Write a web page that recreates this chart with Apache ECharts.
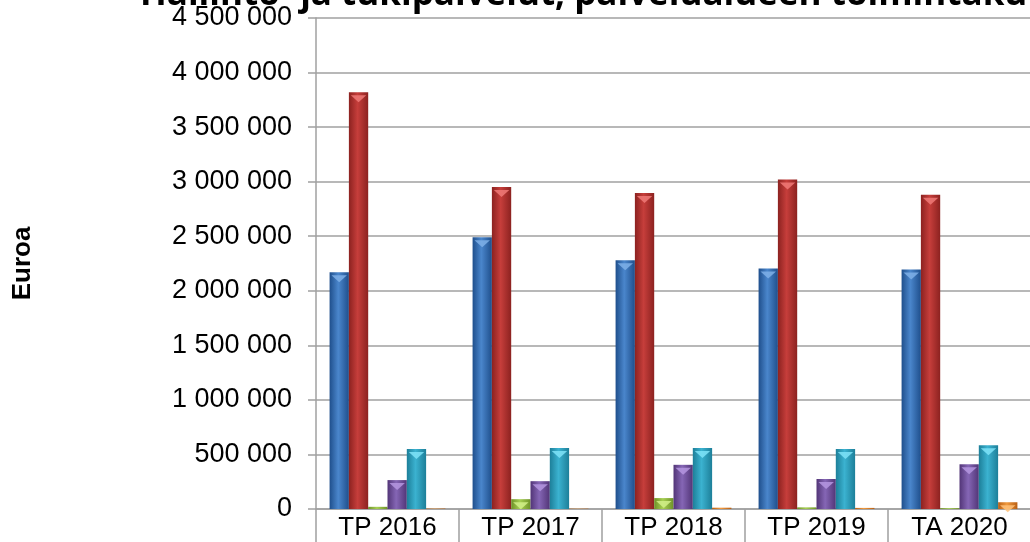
<!DOCTYPE html>
<html>
<head>
<meta charset="utf-8">
<script src="https://cdn.jsdelivr.net/npm/echarts@6/dist/echarts.min.js"></script>
<style>
  html, body { margin: 0; padding: 0; background: #fff; }
  #chart { width: 1030px; height: 542px; }
</style>
</head>
<body>
<div id="chart"></div>
<script>
  // vuodet
  const categories = ['TP 2016', 'TP 2017', 'TP 2018', 'TP 2019', 'TA 2020'];

  // sarjat (euroa), luettu kuvasta
  const sarja1 = [2170000, 2490000, 2280000, 2205000, 2195000];
  const sarja2 = [3820000, 2950000, 2895000, 3020000, 2880000];
  const sarja3 = [20000, 90000, 100000, 15000, 8000];
  const sarja4 = [265000, 255000, 405000, 275000, 410000];
  const sarja5 = [550000, 560000, 560000, 550000, 585000];
  const sarja6 = [4000, 3000, 12000, 10000, 62000];

  const yTicks = [0, 4500000, 500000]; // min, max, interval

  const colors = [
    ['#1f4f8c', '#4a86cc'],
    ['#8c2220', '#c63e3b'],
    ['#6e9228', '#a6cf52'],
    ['#523577', '#8566b5'],
    ['#1d7f99', '#3bb2d0'],
    ['#b85f14', '#f19a3e']
  ];
  const capColors = ['#7fb0e8', '#f07a78', '#d2f08a', '#b596e0', '#7fe3f8', '#ffc27a'];

  const allData = [sarja1, sarja2, sarja3, sarja4, sarja5, sarja6];

  const chart = echarts.init(document.getElementById('chart'));

  function spaced(v) {
    return String(v).replace(/\B(?=(\d{3})+(?!\d))/g, ' ');
  }

  let series = [];
  for (let i = 0; i < allData.length; i++) {
    series.push({
      name: 's' + (i + 1),
      type: 'bar',
      data: allData[i],
      barGap: '0%',
      barCategoryGap: '19%',
      itemStyle: {
        color: new echarts.graphic.LinearGradient(0, 0, 1, 0, [
          { offset: 0, color: colors[i][0] },
          { offset: 0.45, color: colors[i][1] },
          { offset: 1, color: colors[i][0] }
        ])
      }
    });
  }
  // kolmiot pylväiden päällä (ei aivan pienissä)
  for (let i = 0; i < allData.length; i++) {
    let capData = allData[i].map(function (v) {
      return { value: v, symbolSize: v < 60000 ? [0, 0] : ['80%', 7] };
    });
    series.push({
      name: 'cap' + (i + 1),
      type: 'pictorialBar',
      data: capData,
      barGap: '0%',
      barCategoryGap: '19%',
      symbol: 'triangle',
      symbolRotate: 180,
      symbolPosition: 'end',
      symbolOffset: [0, 3],
      z: 5,
      silent: true,
      itemStyle: { color: capColors[i], opacity: 0.85 }
    });
  }

  const option = {
    animation: false,
    backgroundColor: '#fff',
    grid: {
      left: 316,
      top: 18,
      right: -1,
      bottom: 33,
      outerBoundsMode: 'none'
    },
    graphic: [{
      type: 'text',
      left: 140,
      top: -22,
      style: {
        text: 'Hallinto- ja tukipalvelut, palvelualueen toimintakulut',
        font: 'bold 35px "Open Sans", "Noto Sans", sans-serif',
        fill: '#000'
      }
    }],
    xAxis: {
      type: 'category',
      data: categories,
      axisLine: { lineStyle: { color: '#a0a0a0', width: 1.5 } },
      axisTick: { show: true, length: 34, lineStyle: { color: '#a0a0a0', width: 1.5 } },
      axisLabel: {
        color: '#000',
        fontSize: 26,
        fontFamily: 'Liberation Sans, Arial, sans-serif',
        margin: 6
      }
    },
    yAxis: {
      type: 'value',
      min: yTicks[0],
      max: yTicks[1],
      interval: yTicks[2],
      name: 'Euroa',
      nameLocation: 'middle',
      nameGap: 280,
      nameRotate: 90,
      nameTextStyle: {
        fontSize: 26,
        fontWeight: 'bold',
        color: '#000',
        fontFamily: 'Liberation Sans, Arial, sans-serif'
      },
      axisLine: { show: true, lineStyle: { color: '#a0a0a0', width: 1.5 } },
      axisTick: { show: true, length: 8, lineStyle: { color: '#a0a0a0', width: 1.5 } },
      axisLabel: {
        color: '#000',
        fontSize: 27,
        fontFamily: 'Liberation Sans, Arial, sans-serif',
        margin: 24,
        formatter: spaced
      },
      splitLine: { lineStyle: { color: '#a0a0a0', width: 1.5 } }
    },
    series: series
  };

  chart.setOption(option);
  window.addEventListener('resize', function () {
    chart.resize();
  });
</script>
</body>
</html>
